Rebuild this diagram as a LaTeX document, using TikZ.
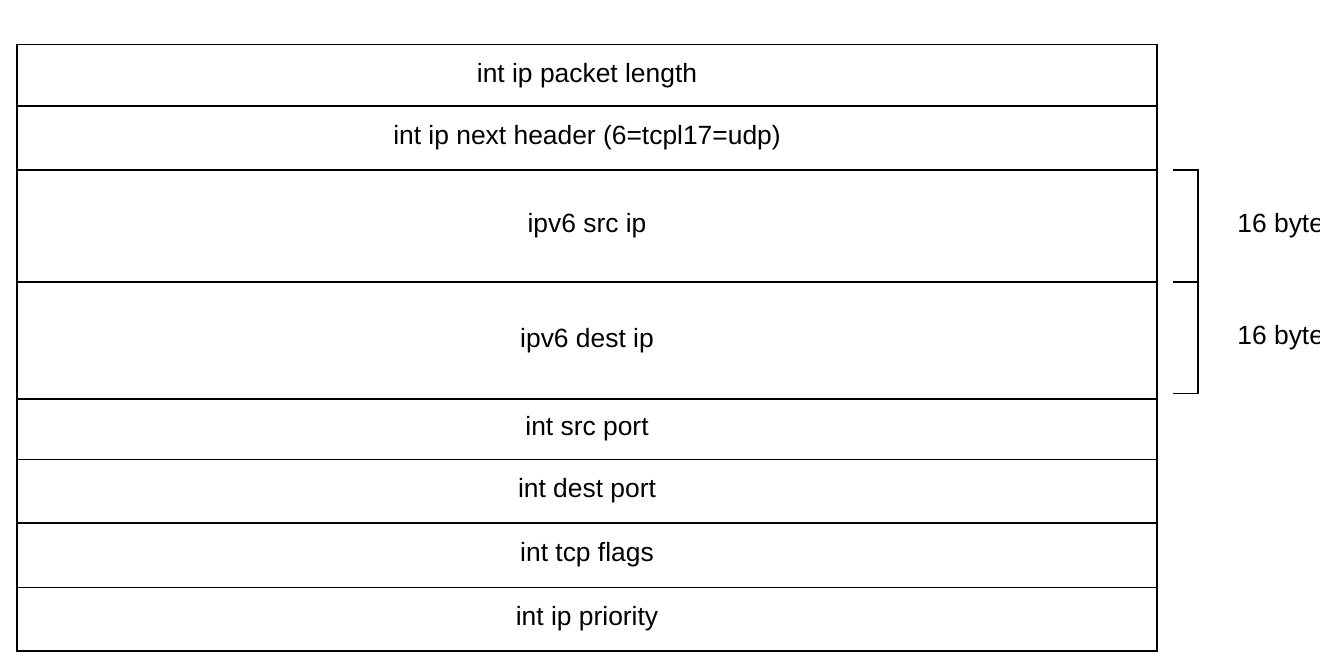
\documentclass[tikz,border=0pt]{standalone}
\usepackage{fontspec}
\setmainfont{Liberation Sans}
\usetikzlibrary{positioning}
\tikzset{
  field/.style={draw, line width=0.8pt, outer sep=0pt, inner sep=0pt,
    minimum width=570pt, font=\fontsize{13.2}{16}\selectfont},
  brace line/.style={line width=0.8pt},
  size label/.style={anchor=west, inner sep=0pt, font=\fontsize{13.2}{16}\selectfont},
}
\begin{document}
\begin{tikzpicture}[x=0.5pt,y=-0.5pt]
        \useasboundingbox (0,0) rectangle (1320,662);
        \node[field, anchor=north west, minimum height=30.8pt] (len) at (17,44.7) {int ip packet length};
        \node[field, below=0pt of len, minimum height=31.85pt] (next) {int ip next header (6=tcpl17=udp)};
        \node[field, below=0pt of next, minimum height=56.15pt] (src) {ipv6 src ip};
        \node[field, below=0pt of src, minimum height=58.35pt] (dst) {ipv6 dest ip};
        \node[field, below=0pt of dst, minimum height=30.15pt] (sport) {int src port};
        \node[field, below=0pt of sport, minimum height=31.7pt] (dport) {int dest port};
        \node[field, below=0pt of dport, minimum height=32.3pt] (flags) {int tcp flags};
        \node[field, below=0pt of flags, minimum height=31.7pt] (prio) {int ip priority};
        % address brackets
        \draw[brace line] ([xshift=8pt]src.north east) -- ++(25,0) |- ([xshift=8pt]src.south east);
        \draw[brace line] ([xshift=8pt]dst.north east) -- ++(25,0) |- ([xshift=8pt,yshift=2.8pt]dst.south east);
        \node[size label] (srcsize) at ([xshift=40pt]src.east) {16 bytes};
        \node[size label] (dstsize) at ([xshift=40pt,yshift=1.4pt]dst.east) {16 bytes};
    \end{tikzpicture}
\end{document}
